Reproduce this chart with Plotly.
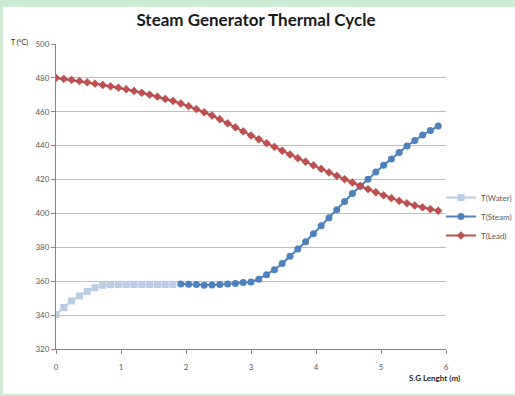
import plotly.graph_objects as go

# ---- data ----
x_water = [0.0, 0.12, 0.24, 0.36, 0.48, 0.60, 0.72, 0.84, 0.96, 1.08, 1.20, 1.32, 1.44, 1.56, 1.68, 1.80]
t_water = [340.3, 344.5, 348.4, 351.3, 354.0, 356.2, 357.6, 358.0, 358.1, 358.1, 358.1, 358.1, 358.1, 358.1, 358.1, 358.1]

x_steam = [1.92, 2.04, 2.16, 2.28, 2.40, 2.52, 2.64, 2.76, 2.88, 3.00, 3.12, 3.24, 3.36, 3.48, 3.60, 3.72, 3.84,
           3.96, 4.08, 4.20, 4.32, 4.44, 4.56, 4.68, 4.80, 4.92, 5.04, 5.16, 5.28, 5.40, 5.52, 5.64, 5.76, 5.88]
t_steam = [358.4, 358.2, 358.0, 357.6, 357.8, 358.0, 358.3, 358.6, 359.2, 359.6, 361.2, 363.8, 366.8, 370.5,
           374.7, 379.0, 383.3, 388.0, 392.8, 397.5, 402.2, 407.0, 411.8, 416.0, 420.2, 424.5, 428.4, 432.2,
           436.0, 439.8, 443.0, 446.3, 449.0, 451.6]

x_lead = [0.0, 0.12, 0.24, 0.36, 0.48, 0.60, 0.72, 0.84, 0.96, 1.08, 1.20, 1.32, 1.44, 1.56, 1.68, 1.80,
          1.92, 2.04, 2.16, 2.28, 2.40, 2.52, 2.64, 2.76, 2.88, 3.00, 3.12, 3.24, 3.36, 3.48, 3.60, 3.72, 3.84,
          3.96, 4.08, 4.20, 4.32, 4.44, 4.56, 4.68, 4.80, 4.92, 5.04, 5.16, 5.28, 5.40, 5.52, 5.64, 5.76, 5.88]
t_lead = [480.0, 479.4, 478.8, 478.1, 477.4, 476.6, 475.8, 475.0, 474.2, 473.3, 472.3, 471.2, 470.1, 468.9,
          467.6, 466.4, 464.9, 463.3, 461.6, 459.7, 457.8, 455.6, 453.2, 450.8, 448.4, 446.0, 443.8, 441.5,
          439.3, 437.0, 434.8, 432.6, 430.5, 428.4, 426.3, 424.2, 422.2, 420.2, 418.2, 416.2, 414.3, 412.5,
          410.7, 409.0, 407.4, 406.0, 404.7, 403.6, 402.6, 401.6]

x_ticks = [0, 1, 2, 3, 4, 5, 6]
y_ticks = [320, 340, 360, 380, 400, 420, 440, 460, 480, 500]

title_text = "Steam Generator Thermal Cycle"
x_title = "S.G Lenght (m)"
y_title = "T (°C)"
names = ["T(Water)", "T(Steam)", "T(Lead)"]

# ---- layout geometry (pixels) ----
W, H = 515, 396
L, R, T, B = 56, 69, 44, 47
pw, ph = W - L - R, H - T - B

def px(xp):
    return (xp - L) / pw

def py(yp):
    return (H - B - yp) / ph

FONT = "Lato, 'Open Sans', sans-serif"
GREY = "#595959"

fig = go.Figure()
fig.add_trace(go.Scatter(
    x=x_water, y=t_water, name=names[0], mode="lines+markers",
    line=dict(color="#b9cde5", width=2),
    marker=dict(symbol="square", size=7, color="#b9cde5", line=dict(width=0)),
))
fig.add_trace(go.Scatter(
    x=x_steam, y=t_steam, name=names[1], mode="lines+markers",
    line=dict(color="#4f81bd", width=2),
    marker=dict(symbol="circle", size=7, color="#4f81bd", line=dict(width=0)),
))
fig.add_trace(go.Scatter(
    x=x_lead, y=t_lead, name=names[2], mode="lines+markers",
    line=dict(color="#c0504d", width=2),
    marker=dict(symbol="diamond", size=6, color="#c0504d", line=dict(width=0.5, color="#9b3c3a")),
))

fig.update_layout(
    width=W, height=H,
    margin=dict(l=L, r=R, t=T, b=B, autoexpand=False),
    paper_bgcolor="#cdebd2",
    plot_bgcolor="white",
    font=dict(family=FONT, size=8, color=GREY),
    title=dict(text="<b>" + title_text + "</b>", x=0.497, xanchor="center",
               y=1 - 20 / H, yanchor="middle",
               font=dict(family=FONT, size=17, color="#1a1a1a")),
    showlegend=True,
    legend=dict(x=px(441), y=py(183), xanchor="left", yanchor="top",
                bgcolor="rgba(0,0,0,0)", font=dict(size=8, color=GREY),
                itemwidth=30, tracegroupgap=0),
    shapes=[dict(type="rect", xref="paper", yref="paper", layer="below",
                 x0=px(3), x1=px(W + 5), y0=py(H - 2), y1=py(7),
                 fillcolor="white", line=dict(width=0))],
    annotations=[
        dict(text="<b>" + x_title + "</b>", xref="paper", yref="paper",
             x=px(434), y=py(378), xanchor="center", yanchor="middle",
             showarrow=False, font=dict(family=FONT, size=8, color="#262626")),
        dict(text=y_title, xref="paper", yref="paper",
             x=px(30), y=py(42), xanchor="right", yanchor="middle",
             showarrow=False, font=dict(family=FONT, size=7, color="#262626")),
    ],
)
fig.update_xaxes(range=[0, 6], tickvals=x_ticks, ticks="outside", ticklen=4,
                 tickcolor="#868686", showline=True, linecolor="#868686", linewidth=1,
                 showgrid=False, zeroline=False, ticklabelstandoff=6,
                 tickfont=dict(size=8, color=GREY))
fig.update_yaxes(range=[320, 500], tickvals=y_ticks, ticks="outside", ticklen=4,
                 tickcolor="#868686", showline=True, linecolor="#868686", linewidth=1,
                 showgrid=True, gridcolor="#bfbfbf", gridwidth=1, zeroline=False,
                 tickfont=dict(size=8, color=GREY))

fig.write_html("out.html", config={"displayModeBar": False},
               post_script="document.body.style.margin='0';")
